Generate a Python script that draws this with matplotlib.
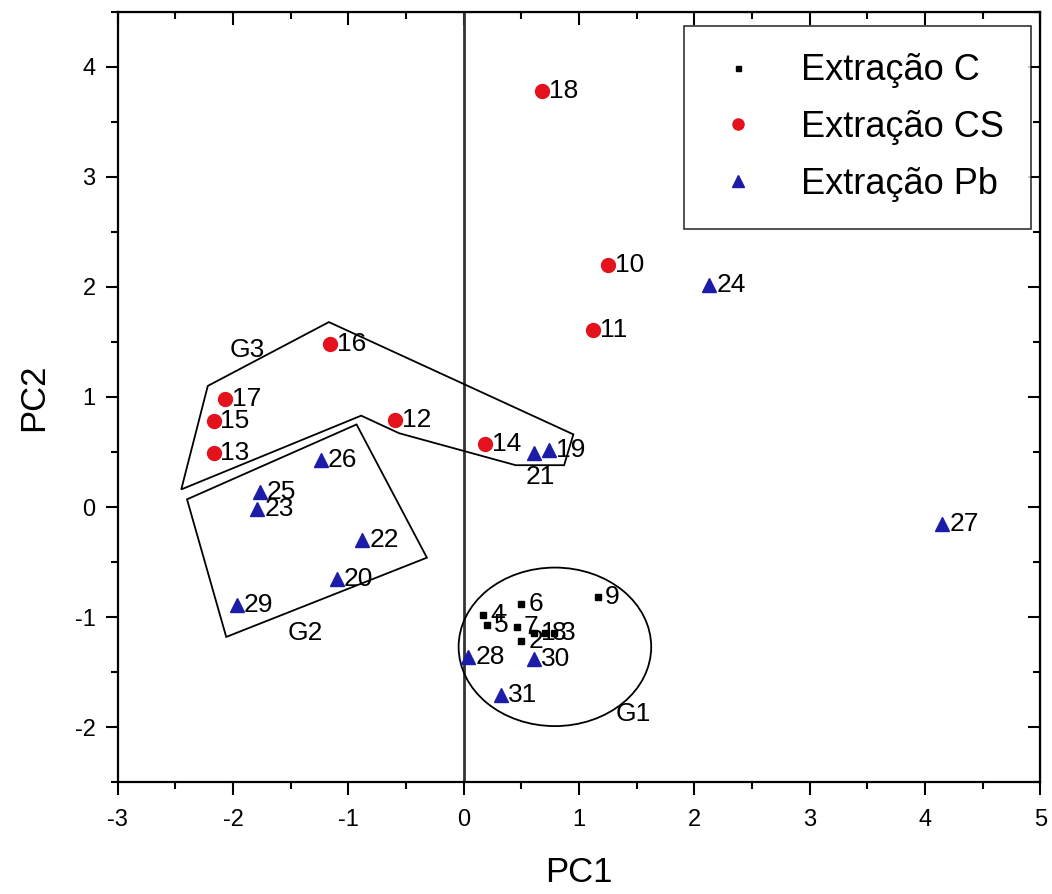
import matplotlib
matplotlib.use("Agg")
import matplotlib.pyplot as plt
from matplotlib.patches import Polygon, Ellipse
from matplotlib.ticker import MultipleLocator

plt.rcParams['font.family'] = ['Liberation Sans', 'DejaVu Sans']
plt.rcParams['axes.unicode_minus'] = False

# Extração C (samples 1-9)
c_ids = [1, 2, 3, 4, 5, 6, 7, 8, 9]
c_pc1 = [0.61, 0.50, 0.78, 0.17, 0.20, 0.50, 0.46, 0.70, 1.16]
c_pc2 = [-1.14, -1.22, -1.14, -0.98, -1.07, -0.88, -1.09, -1.14, -0.82]

# Extração CS (samples 10-18)
cs_ids = [10, 11, 12, 13, 14, 15, 16, 17, 18]
cs_pc1 = [1.25, 1.12, -0.60, -2.17, 0.18, -2.17, -1.16, -2.07, 0.68]
cs_pc2 = [2.20, 1.61, 0.79, 0.49, 0.57, 0.78, 1.48, 0.98, 3.78]

# Extração Pb (samples 19-31)
pb_ids = [19, 20, 21, 22, 23, 24, 25, 26, 27, 28, 29, 30, 31]
pb_pc1 = [0.74, -1.10, 0.61, -0.88, -1.79, 2.13, -1.77, -1.24, 4.15, 0.04, -1.97, 0.61, 0.32]
pb_pc2 = [0.52, -0.65, 0.49, -0.30, -0.02, 2.02, 0.14, 0.43, -0.15, -1.36, -0.89, -1.38, -1.71]

# group outlines
g3_outline = [(-1.17, 1.68), (0.95, 0.66), (0.87, 0.38), (0.45, 0.38),
              (-0.56, 0.67), (-0.89, 0.83), (-2.45, 0.16), (-2.22, 1.10)]
g2_outline = [(-2.40, 0.07), (-0.93, 0.75), (-0.32, -0.46), (-2.06, -1.18)]
g1_center, g1_w, g1_h = (0.79, -1.27), 1.67, 1.44

fig = plt.figure(figsize=(10.52, 8.94), dpi=100)
ax = fig.add_axes([0.112, 0.125, 0.877, 0.862])

red = '#e3121c'
blue = '#1c1ca8'

ax.axvline(0, color='#333333', lw=2, zorder=1)

ax.add_patch(Polygon(g3_outline, closed=True, fill=False, ec='black', lw=1.3, zorder=2))
ax.add_patch(Polygon(g2_outline, closed=True, fill=False, ec='black', lw=1.3, zorder=2))
ax.add_patch(Ellipse(g1_center, g1_w, g1_h, fill=False, ec='black', lw=1.3, zorder=2))

ax.plot(c_pc1, c_pc2, 's', color='black', ms=4.5, ls='none', label='Extração C', zorder=3)
ax.plot(cs_pc1, cs_pc2, 'o', color=red, ms=10, ls='none', label='Extração CS', zorder=3)
ax.plot(pb_pc1, pb_pc2, '^', color=blue, ms=10, ls='none', label='Extração Pb', zorder=3)

lab_kw = dict(fontsize=19, va='center', ha='left', textcoords='offset points', zorder=4)
for ids, xs, ys in [(c_ids, c_pc1, c_pc2), (cs_ids, cs_pc1, cs_pc2), (pb_ids, pb_pc1, pb_pc2)]:
    for i, x, y in zip(ids, xs, ys):
        if i == 21:
            ax.annotate(str(i), (x, y), xytext=(-6, -17), **lab_kw)
        else:
            ax.annotate(str(i), (x, y), xytext=(5, 0), **lab_kw)

ax.text(1.47, -1.88, 'G1', fontsize=19, ha='center', va='center')
ax.text(-1.37, -1.14, 'G2', fontsize=19, ha='center', va='center')
ax.text(-1.88, 1.43, 'G3', fontsize=19, ha='center', va='center')

ax.set_xlim(-3, 5)
ax.set_ylim(-2.5, 4.5)
ax.xaxis.set_major_locator(MultipleLocator(1))
ax.xaxis.set_minor_locator(MultipleLocator(0.5))
ax.yaxis.set_major_locator(MultipleLocator(1))
ax.yaxis.set_minor_locator(MultipleLocator(0.5))
ax.tick_params(axis='both', which='major', direction='out', length=9, width=1.5,
               labelsize=17, pad=7, top=False, right=False)
ax.tick_params(axis='x', which='major', pad=10)
ax.tick_params(axis='both', which='minor', direction='out', length=5, width=1.5,
               top=False, right=False)
for s in ax.spines.values():
    s.set_linewidth(1.6)

# inward ticks on the top and right spines
sec_x = ax.secondary_xaxis('top')
sec_x.xaxis.set_major_locator(MultipleLocator(1))
sec_x.xaxis.set_minor_locator(MultipleLocator(0.5))
sec_x.tick_params(which='major', direction='in', length=9, width=1.5, labeltop=False)
sec_x.tick_params(which='minor', direction='in', length=5, width=1.5)
sec_y = ax.secondary_yaxis('right')
sec_y.yaxis.set_major_locator(MultipleLocator(1))
sec_y.yaxis.set_minor_locator(MultipleLocator(0.5))
sec_y.tick_params(which='major', direction='in', length=9, width=1.5, labelright=False)
sec_y.tick_params(which='minor', direction='in', length=5, width=1.5)

ax.set_xlabel('PC1', fontsize=25, labelpad=18)
ax.set_ylabel('PC2', fontsize=25, labelpad=18)

leg = ax.legend(loc='upper right', fontsize=26, frameon=True, fancybox=False,
                edgecolor='black', borderpad=0.75, handletextpad=1.0, labelspacing=0.6,
                handlelength=1.5, borderaxespad=0,
                bbox_to_anchor=(0.990, 0.981), markerscale=0.8)
leg.get_frame().set_linewidth(1.2)

fig.savefig('out.png', dpi=100)
